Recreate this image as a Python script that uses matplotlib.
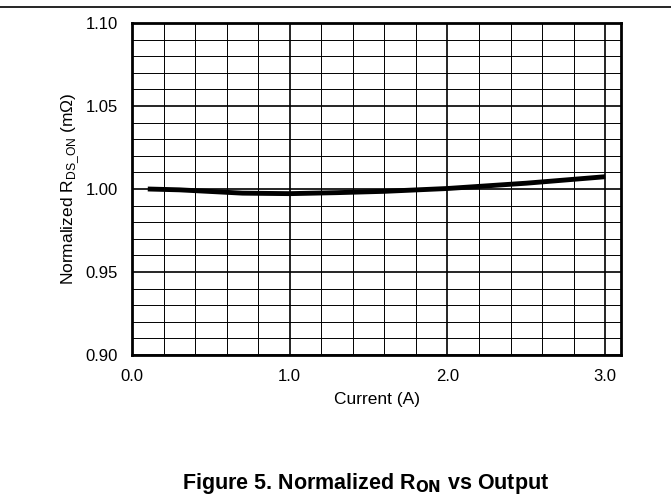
import matplotlib.pyplot as plt
import numpy as np

plt.rcParams['font.family'] = ['Liberation Sans', 'DejaVu Sans']

# current (A) vs normalized Rds_on
current = [0.1, 0.3, 0.5, 0.7, 1.0, 1.3, 1.6, 2.0, 2.5, 3.0]
rds_on = [1.000, 0.9995, 0.9985, 0.9975, 0.9972, 0.9978, 0.9986, 1.0003, 1.0035, 1.0074]

fig = plt.figure(figsize=(6.71, 4.94), dpi=100)
ax = fig.add_axes([132/671, 1 - 355/494, (621-132)/671, (355-23)/494])

# line across the top of the page
fig.add_artist(plt.Line2D([0, 1], [1 - 7/494, 1 - 7/494], color='black', lw=1.2))

ax.set_xlim(0, 3.1)
ax.set_ylim(0.90, 1.10)
ax.set_xticks([0, 1, 2, 3])
ax.set_xticklabels(['0.0', '1.0', '2.0', '3.0'])
ax.set_yticks(np.arange(0.90, 1.101, 0.05))
ax.set_yticklabels(['0.90', '0.95', '1.00', '1.05', '1.10'])
ax.set_xticks(np.arange(0, 3.11, 0.2), minor=True)
ax.set_yticks(np.arange(0.90, 1.101, 0.01), minor=True)
ax.grid(which='major', color='black', lw=1.2)
ax.grid(which='minor', color='black', lw=0.7)
ax.tick_params(which='both', length=0, labelsize=12, pad=10)
for s in ax.spines.values():
    s.set_linewidth(2)

ax.plot(current, rds_on, color='black', lw=3.5, solid_capstyle='butt')

ax.set_xlabel('Current (A)', fontsize=12.5, labelpad=6)
ax.set_ylabel('Normalized R$_\\mathregular{DS\\_ON}$ (m\u03a9)', fontsize=12.5, labelpad=3)

fig.text(366/671, 1 - 483/494, 'Figure 5. Normalized R$_\\mathbf{ON}$ vs Output',
         ha='center', va='center', fontsize=15.5, fontweight='bold')

fig.savefig('out.png', dpi=100)
